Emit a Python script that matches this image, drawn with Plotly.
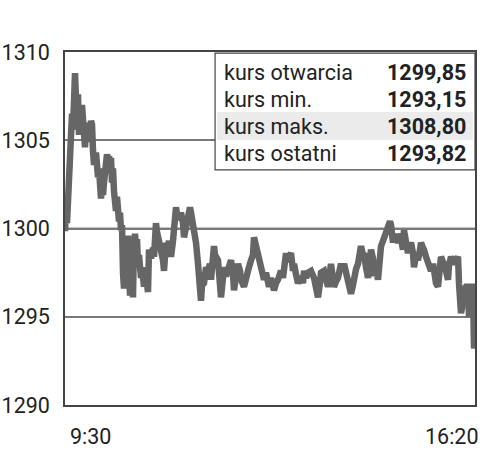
import plotly.graph_objects as go

# minutes after 9:30 and index value
minutes = [0,1,2,3,4,5,6,7,8,9,10,11,12,13,14,15,16,17,18,19,20,21,22,23,25,26,27,28,29,31,32,33,34,35,36,37,38,39,41,42,43,44,45,46,47,48,49,50,51,52,53,54,55,56,57,58,59,60,61,62,63,64,65,66,67,68,69,70,71,72,73,74,76,77,79,81,83,84,86,88,89,91,92,94,96,98,99,101,102,104,106,108,109,111,112,114,116,118,119,121,123,125,126,128,130,131,133,134,135,136,137,139,141,143,145,146,149,150,153,155,156,158,159,161,163,166,168,169,171,173,175,176,179,181,183,186,188,189,191,193,194,196,199,201,204,206,209,211,213,216,218,221,223,224,226,228,229,231,233,236,238,239,241,243,246,249,251,253,255,256,259,261,263,266,268,269,271,273,276,278,279,281,283,286,288,289,291,293,296,298,299,301,303,306,308,309,311,313,314,316,318,319,321,323,325,326,328,329,331,333,334,336,338,339,341,343,344,346,348,349,351,353,355,356,358,359,361,363,365,366,368,369,371,373,374,376,378,379,381,383,384,386,388,389,391,393,394,395,396,397,398,399,401,403,404,405,406,407,408,409,410]
values = [1299.85,1301.2,1300.3,1302.0,1301.5,1303.8,1305.5,1306.5,1305.6,1307.8,1308.8,1307.3,1306.0,1307.6,1305.3,1306.9,1305.7,1307.0,1306.1,1305.4,1304.6,1305.8,1304.9,1306.0,1305.4,1306.1,1305.9,1304.4,1303.6,1304.3,1303.2,1302.9,1303.4,1302.2,1301.7,1302.3,1301.9,1302.6,1303.6,1304.2,1303.9,1304.1,1303.6,1304.0,1302.6,1303.4,1302.1,1301.4,1301.0,1301.8,1301.2,1300.4,1300.9,1299.9,1300.2,1297.5,1296.6,1298.3,1299.5,1299.0,1299.6,1297.2,1296.2,1299.0,1297.4,1296.1,1299.2,1299.7,1298.8,1299.4,1298.0,1298.5,1297.2,1297.8,1296.7,1297.3,1296.4,1298.8,1298.3,1298.9,1298.4,1300.3,1299.8,1299.3,1298.8,1298.2,1297.6,1299.2,1298.7,1299.3,1298.4,1299.3,1300.2,1301.2,1300.8,1300.5,1300.9,1300.3,1299.5,1300.0,1300.4,1301.2,1300.9,1300.3,1299.6,1299.2,1298.0,1297.2,1296.5,1295.9,1296.8,1296.9,1297.8,1297.6,1298.0,1297.1,1299.0,1298.5,1298.2,1297.0,1296.1,1297.2,1297.8,1297.3,1297.6,1298.2,1297.4,1296.5,1297.3,1298.0,1297.6,1297.1,1296.7,1297.3,1297.6,1298.2,1298.5,1299.5,1299.0,1298.4,1298.0,1297.5,1297.1,1297.5,1296.7,1297.2,1296.5,1296.9,1297.1,1297.6,1297.2,1298.6,1298.1,1298.4,1298.6,1297.6,1298.0,1297.4,1296.9,1297.3,1296.9,1297.6,1297.2,1297.5,1297.6,1297.2,1296.7,1296.1,1296.9,1297.5,1297.6,1297.2,1296.7,1298.0,1297.3,1296.7,1297.0,1297.2,1298.0,1297.6,1298.0,1297.5,1297.1,1296.3,1296.8,1297.2,1297.7,1298.0,1299.0,1298.5,1298.6,1297.8,1297.2,1298.8,1298.3,1297.3,1297.8,1297.1,1298.0,1299.0,1299.3,1299.5,1299.9,1300.3,1300.4,1300.2,1299.2,1299.6,1299.5,1299.2,1299.7,1299.4,1298.8,1299.9,1299.0,1298.6,1298.9,1299.2,1298.6,1297.8,1298.5,1298.2,1298.8,1299.2,1298.9,1298.8,1298.4,1298.0,1297.8,1297.6,1298.0,1297.3,1296.9,1296.7,1297.5,1298.4,1298.1,1298.0,1297.6,1297.1,1297.9,1298.4,1298.1,1298.0,1298.2,1298.4,1296.9,1296.0,1295.2,1295.5,1296.7,1296.5,1296.7,1296.7,1295.0,1296.0,1296.6,1296.7,1296.7,1293.2,1293.82]

y_ticks = [1290, 1295, 1300, 1305, 1310]
x_tick_pos = [0, 410]
x_tick_labels = ["9:30", "16:20"]

table_labels = ["kurs otwarcia", "kurs min.", "kurs maks.", "kurs ostatni"]
table_values = ["1299,85", "1293,15", "1308,80", "1293,82"]

FONT = "Roboto"
FS = 21.5
fig = go.Figure()
fig.add_trace(go.Scatter(x=minutes, y=values, mode="lines",
                         line=dict(color="#666666", width=6.5), hoverinfo="skip"))

fig.update_layout(
    width=500, height=460,
    margin=dict(l=65, r=25, t=52, b=55, autoexpand=False),
    paper_bgcolor="white", plot_bgcolor="white",
    showlegend=False,
    font=dict(family=FONT, size=FS, color="#222"),
)
fig.update_xaxes(range=[0, 410], showgrid=False, zeroline=False, showticklabels=False,
                 showline=True, mirror=True, linecolor="#444", linewidth=1.5, automargin=False)
fig.update_yaxes(range=[1290, 1310], tickvals=y_ticks, ticktext=[str(v) for v in y_ticks],
                 showgrid=True, gridcolor="#7a7a7a", gridwidth=1.5, zeroline=False,
                 showline=True, mirror=True, linecolor="#444", linewidth=1.5, automargin=False,
                 ticks="", ticklabelstandoff=9, tickfont=dict(family=FONT, size=FS, color="#222"))

# darker reference line at 1300
fig.add_shape(type="line", xref="paper", x0=0, x1=1, yref="y", y0=1300, y1=1300,
              line=dict(color="#111", width=1.5), layer="below")

for pos, lab, anchor, shift in zip(x_tick_pos, x_tick_labels, ["left", "right"], [3, 6]):
    fig.add_annotation(x=pos, xref="x", y=-0.09, yref="paper", text=lab, showarrow=False,
                       xanchor=anchor, yanchor="middle", xshift=shift,
                       font=dict(family=FONT, size=FS, color="#222"))

# info table
fig.add_shape(type="rect", xref="paper", yref="paper", x0=0.366, x1=1.0, y0=0.666, y1=0.997,
              fillcolor="white", line=dict(color="#444", width=1.2), layer="above")
fig.add_shape(type="rect", xref="paper", yref="paper", x0=0.371, x1=0.995, y0=0.751, y1=0.830,
              fillcolor="#ebebeb", line=dict(width=0), layer="above")
row_y = [0.943, 0.865, 0.790, 0.712]
for ry, lab, val in zip(row_y, table_labels, table_values):
    fig.add_annotation(x=0.383, y=ry, xref="paper", yref="paper", text=lab, showarrow=False,
                       xanchor="left", yanchor="middle", font=dict(family=FONT, size=FS, color="#222"))
    fig.add_annotation(x=0.983, y=ry, xref="paper", yref="paper", text="<b>" + val + "</b>",
                       showarrow=False, xanchor="right", yanchor="middle",
                       font=dict(family=FONT, size=FS, color="#222"))

fig.write_html("out.html", config={"displayModeBar": False},
               post_script="document.body.style.margin='0';")
